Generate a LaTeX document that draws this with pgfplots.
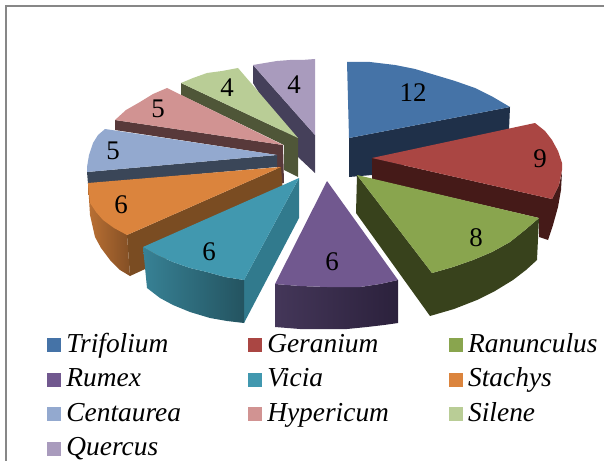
\documentclass[border=0pt]{standalone}
\usepackage{pgfplots}
\pgfplotsset{compat=1.18}
\usepackage{fontspec}
\setmainfont{Liberation Serif}
\definecolor{c1}{HTML}{4573A7}\definecolor{c2}{HTML}{AA4643}\definecolor{c3}{HTML}{89A54E}
\definecolor{c4}{HTML}{71588F}\definecolor{c5}{HTML}{4198AF}\definecolor{c6}{HTML}{DB843D}
\definecolor{c7}{HTML}{93A9CF}\definecolor{c8}{HTML}{D19392}\definecolor{c9}{HTML}{B9CD96}
\definecolor{c10}{HTML}{A99BBD}
\definecolor{s1}{HTML}{1F3049}\definecolor{s2}{HTML}{451A18}\definecolor{s3}{HTML}{38421C}
\definecolor{s4}{HTML}{3A2C50}\definecolor{s5}{HTML}{317A8D}\definecolor{s6}{HTML}{7A4C22}
\definecolor{s7}{HTML}{3A4658}\definecolor{s8}{HTML}{58393A}\definecolor{s9}{HTML}{4F5638}
\definecolor{s10}{HTML}{45405A}
\newcommand{\E}[1]{\hspace{4bp}\makebox[179.5bp][l]{\itshape\rule[-11bp]{0pt}{34.5bp}#1}}
\begin{document}
\begin{tikzpicture}
\path[use as bounding box] (0,0) rectangle (604bp,461bp);
\begin{axis}[
  scale only axis, width=604bp, height=461bp,
  xmin=0, xmax=604, ymin=0, ymax=461, y dir=reverse,
  axis lines=none,
  legend columns=3,
  legend cell align=left,
  legend style={at={(axis cs:47,327)}, anchor=north west, draw=none, fill=none,
    inner sep=0pt, outer sep=0pt, font=\fontsize{27.5}{27.5}\selectfont,
    /tikz/row sep=5.5bp,
    /tikz/every even column/.append style={column sep=0bp}},
  legend image code/.code={\fill[#1] (0bp,-10bp) rectangle (13bp,3bp);},
]
% frame
\addplot[forget plot, color=black!47, line width=2bp] coordinates {(6,461)(6,6)(604,6)};

% Quercus
\addplot[forget plot, fill=s10, draw=none] coordinates {(253,65)(315,135)(315,173)(298,157)(253,83)} --cycle;
\addplot[forget plot, fill=c10, draw=none] coordinates {(253,65)(265,63)(277,61)(290,60)(302,60)(315,59)(315,135)} --cycle;
% Trifolium
\addplot[forget plot, fill=s1, draw=none] coordinates {(349,138)(510,107)(509,130)(372,175)(349,177)} --cycle;
\addplot[forget plot, fill=c1, draw=none] coordinates {(347,62)(370,62)(395,65)(415,69)(435,75)(455,81)(475,88)(493,97)(510,107)(349,138)} --cycle;
% Silene
\addplot[forget plot, fill=s9, draw=none] coordinates {(181,83)(298,138)(298,177)(284,170)(284,145)(181,95)} --cycle;
\addplot[forget plot, fill=c9, draw=none] coordinates {(181,83)(193,78)(207,73)(222,71)(238,68)(298,138)} --cycle;
% Hypericum
\addplot[forget plot, fill=s8, draw=none] coordinates {(115,120)(283,145)(284,183)(277,183)(277,155)(115,130)} --cycle;
\addplot[forget plot, fill=c8, draw=none] coordinates {(115,120)(126,110)(140,102)(153,94)(167,88)(283,145)} --cycle;
% Centaurea
\addplot[forget plot, fill=s7, draw=none] coordinates {(87,172)(277,155)(277,167)(88,184)} --cycle;
\addplot[forget plot, fill=c7, draw=none] coordinates {(105,129)(98,135)(93,143)(89,155)(87,167)(87,172)(277,155)} --cycle;
% Geranium
\addplot[forget plot, fill=s2, draw=none] coordinates {(372,158)(552,199)(559,185)(562,172)(561,190)(558,207)(553,225)(548,240)(539,237)(539,218)(372,179)} --cycle;
\addplot[forget plot, fill=c2, draw=none] coordinates {(372,158)(535,123)(545,131)(552,140)(558,151)(562,163)(562,170)(559,185)(552,199)} --cycle;
% Stachys
\addplot[forget plot, fill=s6, draw=none] coordinates {(281,167)(127,235)(130,276)(284,205)} --cycle;
\addplot[forget plot, left color=c6!85!black, right color=c6!60!black, draw=none] coordinates {(88,183)(127,235)(130,276)(120,270)(110,260)(101,248)(95,237)(90,215)} --cycle;
\addplot[forget plot, fill=c6, draw=none] coordinates {(88,183)(90,203)(96,212)(103,220)(114,228)(127,235)(281,167)} --cycle;
% Vicia
\addplot[forget plot, fill=s5, draw=none] coordinates {(299,178)(244,280)(244,323)(299,218)} --cycle;
\addplot[forget plot, left color=c5!85!black, right color=c5!55!black, draw=none] coordinates {(143,247)(157,255)(173,262)(190,268)(207,272)(225,277)(244,280)(244,323)(227,321)(210,318)(190,312)(173,305)(160,298)(147,288)} --cycle;
\addplot[forget plot, fill=c5, draw=none] coordinates {(143,247)(157,255)(173,262)(190,268)(207,272)(225,277)(244,280)(299,178)} --cycle;
% Ranunculus
\addplot[forget plot, fill=s3, draw=none] coordinates {(357,175)(432,273)(453,267)(473,260)(492,252)(510,242)(525,230)(539,218)(537,260)(526,270)(513,280)(495,291)(477,300)(454,309)(430,316)(356,213)} --cycle;
\addplot[forget plot, fill=c3, draw=none] coordinates {(357,175)(539,218)(525,230)(510,242)(492,252)(473,260)(453,267)(432,273)} --cycle;
% Rumex
\addplot[forget plot, left color=s4!95!white, right color=s4!75!black, draw=none] coordinates {(275,284)(300,286)(327,287)(360,287)(380,284)(398,280)(398,323)(384,325)(367,327)(347,329)(327,329)(300,329)(275,327)} --cycle;
\addplot[forget plot, fill=c4, draw=none] coordinates {(327,181)(398,280)(380,284)(360,287)(327,287)(300,286)(275,284)} --cycle;

% value labels
\addplot[forget plot, only marks, mark=none, point meta=explicit symbolic,
  nodes near coords, every node near coord/.style={anchor=center, inner sep=0pt, font=\fontsize{27}{27}\selectfont}]
  table[meta=v] {
  x y v
  413 93 12
  540 159 9
  476 238 8
  332 262 6
  209 252 6
  121 205 6
  113 151 5
  158 109 5
  227 88 4
  294 85 4
};

% legend
\addlegendimage{c1}\addlegendentry{\E{Trifolium}}
\addlegendimage{c2}\addlegendentry{\E{Geranium}}
\addlegendimage{c3}\addlegendentry{\E{Ranunculus}}
\addlegendimage{c4}\addlegendentry{\E{Rumex}}
\addlegendimage{c5}\addlegendentry{\E{Vicia}}
\addlegendimage{c6}\addlegendentry{\E{Stachys}}
\addlegendimage{c7}\addlegendentry{\E{Centaurea}}
\addlegendimage{c8}\addlegendentry{\E{Hypericum}}
\addlegendimage{c9}\addlegendentry{\E{Silene}}
\addlegendimage{c10}\addlegendentry{\E{Quercus}}
\end{axis}
\end{tikzpicture}
\end{document}
